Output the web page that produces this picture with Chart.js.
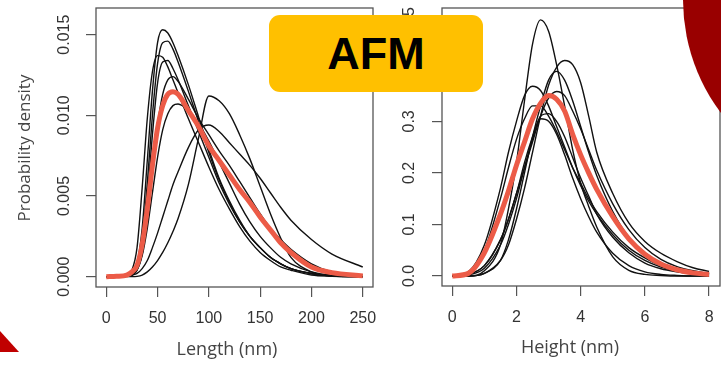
<!DOCTYPE html>
<html>
<head>
<meta charset="utf-8">
<script src="https://cdn.jsdelivr.net/npm/chart.js@4.4.1/dist/chart.umd.min.js"></script>
<style>
  body { margin: 0; background: #fff; width: 721px; height: 365px; overflow: hidden; position: relative; }
  .panel { position: absolute; top: 0; }
  #afm {
    position: absolute; left: 269px; top: 15px; width: 214px; height: 77px;
    background: #FFC000; border-radius: 11px; z-index: 3;
    font: bold 45px "Liberation Sans", Arial, sans-serif; color: #000;
    display: flex; align-items: center; justify-content: center;
  }
  #blob {
    position: absolute; left: 683px; top: -189px; width: 377px; height: 377px;
    border-radius: 50%; background: #990000; z-index: 2;
  }
  #corner {
    position: absolute; left: 0; top: 331px; width: 19px; height: 21px;
    background: #C00000; clip-path: polygon(0 0, 100% 100%, 0 100%); z-index: 2;
  }
</style>
</head>
<body>
<canvas id="lengthChart" class="panel" style="left:0" width="380" height="365"></canvas>
<canvas id="heightChart" class="panel" style="left:380px" width="341" height="365"></canvas>
<div id="blob"></div>
<div id="corner"></div>
<div id="afm">AFM</div>

<script>
// Length panel (nm) - density curves of each run, plus pooled fit in red
const lengthX = [0, 10, 20, 25, 30, 35, 40, 45, 50, 55, 60, 65, 70, 80, 90, 100, 110, 120, 130, 140, 150, 160, 170, 180, 200, 220, 250];
const lengthRun1 = [0, 0, 0.00005, 0.0002, 0.0008, 0.0030, 0.0072, 0.0115, 0.0145, 0.0153, 0.0151, 0.0145, 0.0137, 0.0119, 0.0099, 0.0079, 0.0061, 0.0047, 0.0035, 0.0025, 0.0018, 0.0012, 0.0008, 0.0005, 0.0002, 0.00006, 0];
const lengthRun2 = [0, 0, 0.00003, 0.00015, 0.0006, 0.0022, 0.0058, 0.0100, 0.0132, 0.0145, 0.0146, 0.0141, 0.0133, 0.0115, 0.0096, 0.0077, 0.0060, 0.0046, 0.0034, 0.0025, 0.0018, 0.0012, 0.0008, 0.0005, 0.0002, 0.00006, 0];
const lengthRun3 = [0, 0, 0.0001, 0.0004, 0.0018, 0.0055, 0.0098, 0.0127, 0.0137, 0.0136, 0.0130, 0.0122, 0.0114, 0.0098, 0.0083, 0.0068, 0.0054, 0.0042, 0.0031, 0.0022, 0.0015, 0.0010, 0.0006, 0.0004, 0.0001, 0.00003, 0];
const lengthRun4 = [0, 0, 0.00003, 0.0001, 0.0005, 0.0018, 0.0048, 0.0088, 0.0120, 0.0133, 0.0134, 0.0129, 0.0122, 0.0106, 0.0090, 0.0074, 0.0058, 0.0045, 0.0034, 0.0025, 0.0018, 0.0012, 0.0008, 0.0005, 0.0002, 0.00005, 0];
const lengthRun5 = [0, 0, 0.00002, 0.0001, 0.0004, 0.0014, 0.0036, 0.0066, 0.0094, 0.0113, 0.0122, 0.0124, 0.0121, 0.0110, 0.0098, 0.0088, 0.0078, 0.0069, 0.0059, 0.0049, 0.0039, 0.0030, 0.0023, 0.0017, 0.0008, 0.0003, 0.0001];
const lengthRun6 = [0, 0, 0.00002, 0.0001, 0.0004, 0.0013, 0.0030, 0.0052, 0.0074, 0.0091, 0.0101, 0.0106, 0.0107, 0.0103, 0.0095, 0.0084, 0.0071, 0.0058, 0.0045, 0.0034, 0.0025, 0.0018, 0.0012, 0.0008, 0.0003, 0.0001, 0];
const lengthRun7 = [0, 0, 0, 0, 0.00002, 0.0001, 0.0003, 0.0006, 0.0010, 0.0015, 0.0021, 0.0028, 0.0036, 0.0057, 0.0086, 0.0112, 0.0109, 0.0101, 0.0088, 0.0073, 0.0056, 0.0039, 0.0024, 0.0012, 0.0003, 0.00004, 0];
const lengthRun8 = [0, 0, 0.00003, 0.0001, 0.0002, 0.0005, 0.0010, 0.0018, 0.0027, 0.0037, 0.0047, 0.0057, 0.0065, 0.0080, 0.0091, 0.0094, 0.0090, 0.0083, 0.0076, 0.0069, 0.0061, 0.0052, 0.0043, 0.0035, 0.0023, 0.0014, 0.0006];
const lengthPooled = [0, 0.00002, 0.0001, 0.0003, 0.0007, 0.0020, 0.0042, 0.0069, 0.0092, 0.0106, 0.0113, 0.01146, 0.0113, 0.0103, 0.0093, 0.0081, 0.0072, 0.0063, 0.0054, 0.0046, 0.0037, 0.0029, 0.0021, 0.0015, 0.0006, 0.00025, 0.00005];
const lengthXTicks = [0, 50, 100, 150, 200, 250];
const lengthYTicks = [0, 0.005, 0.010, 0.015];
const lengthYLabels = ['0.000', '0.005', '0.010', '0.015'];

// Height panel (nm)
const heightX = [0, 0.5, 1, 1.5, 1.75, 2, 2.25, 2.5, 2.75, 3, 3.25, 3.5, 3.75, 4, 4.25, 4.5, 5, 5.5, 6, 6.5, 7, 7.5, 8];
const heightRun1 = [0, 0, 0.01, 0.06, 0.13, 0.22, 0.34, 0.45, 0.497, 0.475, 0.41, 0.33, 0.245, 0.18, 0.135, 0.095, 0.037, 0.011, 0.003, 0.001, 0, 0, 0];
const heightRun2 = [0, 0, 0.005, 0.03, 0.06, 0.11, 0.17, 0.24, 0.31, 0.37, 0.405, 0.418, 0.41, 0.375, 0.31, 0.24, 0.16, 0.103, 0.067, 0.044, 0.028, 0.016, 0.009];
const heightRun3 = [0, 0, 0.005, 0.03, 0.07, 0.13, 0.20, 0.27, 0.33, 0.38, 0.397, 0.38, 0.34, 0.29, 0.24, 0.195, 0.125, 0.075, 0.045, 0.025, 0.013, 0.007, 0.004];
const heightRun4 = [0, 0.008, 0.06, 0.17, 0.24, 0.30, 0.35, 0.368, 0.36, 0.33, 0.29, 0.25, 0.21, 0.175, 0.145, 0.12, 0.08, 0.05, 0.03, 0.017, 0.009, 0.005, 0.002];
const heightRun5 = [0, 0.003, 0.02, 0.07, 0.11, 0.16, 0.21, 0.26, 0.31, 0.345, 0.358, 0.35, 0.32, 0.285, 0.245, 0.205, 0.14, 0.09, 0.055, 0.032, 0.018, 0.01, 0.005];
const heightRun6 = [0, 0.007, 0.05, 0.15, 0.21, 0.265, 0.305, 0.33, 0.33, 0.31, 0.28, 0.245, 0.21, 0.18, 0.15, 0.125, 0.085, 0.055, 0.035, 0.02, 0.012, 0.007, 0.004];
const heightRun7 = [0, 0.003, 0.02, 0.07, 0.11, 0.16, 0.22, 0.27, 0.31, 0.315, 0.30, 0.27, 0.23, 0.19, 0.155, 0.12, 0.075, 0.045, 0.025, 0.014, 0.008, 0.004, 0.002];
const heightRun8 = [0, 0.002, 0.015, 0.06, 0.10, 0.15, 0.21, 0.265, 0.305, 0.30, 0.275, 0.235, 0.19, 0.15, 0.115, 0.085, 0.044, 0.02, 0.008, 0.003, 0.001, 0, 0];
const heightPooled = [0, 0.005, 0.045, 0.12, 0.165, 0.215, 0.26, 0.305, 0.335, 0.35, 0.343, 0.32, 0.275, 0.235, 0.20, 0.168, 0.115, 0.072, 0.042, 0.023, 0.012, 0.006, 0.003];
const heightXTicks = [0, 2, 4, 6, 8];
const heightYTicks = [0, 0.1, 0.2, 0.3, 0.4, 0.5];
const heightYLabels = ['0.0', '0.1', '0.2', '0.3', '0.4', '0.5'];

const TICK_FONT = '16px "Liberation Sans", Arial, sans-serif';
const TITLE_FONT = '18px "Open Sans", sans-serif';

// draws the R-style box, tick labels (y ones rotated) and axis titles
const rFrame = {
    id: 'rFrame',
    afterDraw(chart, args, o) {
        const ctx = chart.ctx;
        const a = chart.chartArea;
        const x = chart.scales.x;
        const y = chart.scales.y;
        ctx.save();
        ctx.strokeStyle = '#555';
        ctx.lineWidth = 1.3;
        ctx.strokeRect(a.left, a.top, a.right - a.left, a.bottom - a.top);

        ctx.fillStyle = '#333';
        ctx.font = TICK_FONT;
        ctx.textAlign = 'center';
        ctx.textBaseline = 'middle';
        o.xTicks.forEach(v => ctx.fillText(String(v), x.getPixelForValue(v), o.xLabelY));
        o.yTicks.forEach((v, i) => {
            ctx.save();
            ctx.translate(o.yLabelX, y.getPixelForValue(v));
            ctx.rotate(-Math.PI / 2);
            ctx.fillText(o.yLabels[i], 0, 0);
            ctx.restore();
        });

        ctx.fillStyle = '#444';
        ctx.font = TITLE_FONT;
        ctx.fillText(o.xTitle, o.xTitlePos[0], o.xTitlePos[1]);
        if (o.yTitle) {
            ctx.save();
            ctx.translate(o.yTitlePos[0], o.yTitlePos[1]);
            ctx.rotate(-Math.PI / 2);
            ctx.font = '17px "Open Sans", sans-serif';
            ctx.fillText(o.yTitle, 0, 0);
            ctx.restore();
        }
        ctx.restore();
    }
};

function makePanel(canvasId, xs, runs, pooled, cfg) {
    const toPoints = vals => vals.map((v, i) => ({ x: xs[i], y: v }));
    const datasets = [{
        data: toPoints(pooled),
        borderColor: '#EC5B47',
        borderWidth: 5,
        order: 0
    }];
    runs.forEach(r => datasets.push({
        data: toPoints(r),
        borderColor: '#111',
        borderWidth: 1.4,
        order: 1
    }));
    datasets.forEach(d => {
        d.pointRadius = 0;
        d.fill = false;
        d.cubicInterpolationMode = 'monotone';
    });

    return new Chart(document.getElementById(canvasId), {
        type: 'line',
        data: { datasets: datasets },
        options: {
            responsive: false,
            animation: false,
            devicePixelRatio: 1,
            layout: { padding: cfg.padding },
            plugins: {
                legend: { display: false },
                tooltip: { enabled: false },
                rFrame: cfg.frame
            },
            scales: {
                x: {
                    type: 'linear',
                    min: cfg.xRange[0],
                    max: cfg.xRange[1],
                    afterBuildTicks: s => { s.ticks = cfg.frame.xTicks.map(v => ({ value: v })); },
                    afterFit: s => { s.height = cfg.xHeight; },
                    ticks: { display: false },
                    border: { display: false },
                    grid: { drawOnChartArea: false, drawTicks: true, tickLength: 10, color: '#555', lineWidth: 1.2 }
                },
                y: {
                    type: 'linear',
                    min: cfg.yRange[0],
                    max: cfg.yRange[1],
                    afterBuildTicks: s => { s.ticks = cfg.frame.yTicks.map(v => ({ value: v })); },
                    afterFit: s => { s.width = cfg.yWidth; },
                    ticks: { display: false },
                    border: { display: false },
                    grid: { drawOnChartArea: false, drawTicks: true, tickLength: 10, color: '#555', lineWidth: 1.2 }
                }
            }
        },
        plugins: [rFrame]
    });
}

makePanel('lengthChart', lengthX,
    [lengthRun1, lengthRun2, lengthRun3, lengthRun4, lengthRun5, lengthRun6, lengthRun7, lengthRun8],
    lengthPooled, {
        padding: { left: 0, right: 7, top: 8, bottom: 0 },
        xRange: [-10, 260],
        yRange: [-0.00064, 0.01665],
        xHeight: 78,
        yWidth: 96,
        frame: {
            xTicks: lengthXTicks, yTicks: lengthYTicks, yLabels: lengthYLabels,
            xLabelY: 319, yLabelX: 65,
            xTitle: 'Length (nm)', xTitlePos: [227, 350],
            yTitle: 'Probability density', yTitlePos: [25, 148]
        }
    });

makePanel('heightChart', heightX,
    [heightRun1, heightRun2, heightRun3, heightRun4, heightRun5, heightRun6, heightRun7, heightRun8],
    heightPooled, {
        padding: { left: 0, right: 1, top: 8, bottom: 0 },
        xRange: [-0.32, 8.34],
        yRange: [-0.0195, 0.52],
        xHeight: 79,
        yWidth: 62,
        frame: {
            xTicks: heightXTicks, yTicks: heightYTicks, yLabels: heightYLabels,
            xLabelY: 318, yLabelX: 30,
            xTitle: 'Height (nm)', xTitlePos: [190, 348]
        }
    });
</script>
</body>
</html>
